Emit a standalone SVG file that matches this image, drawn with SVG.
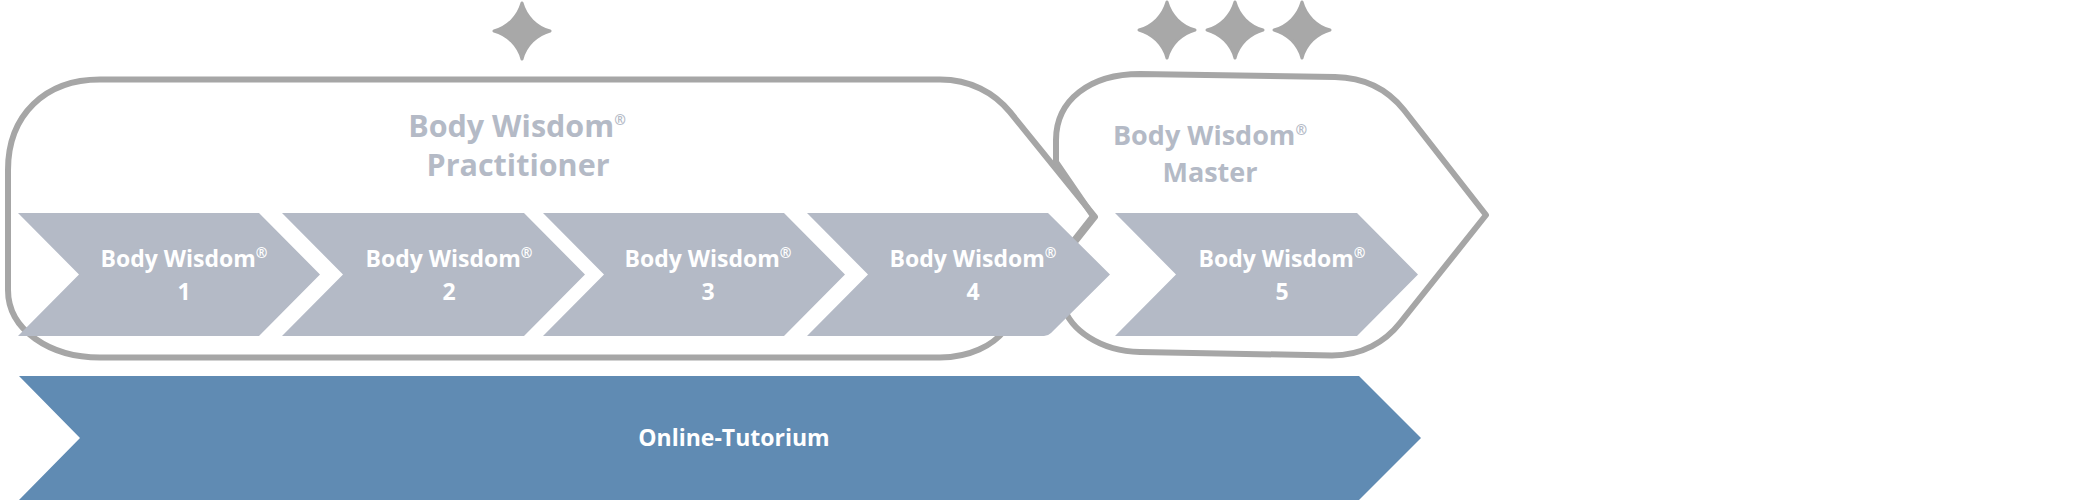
<svg xmlns="http://www.w3.org/2000/svg" width="2100" height="500" viewBox="0 0 2100 500">
<defs>
<style>
.frame{fill:none;stroke:#a6a6a6;stroke-width:6;stroke-linejoin:round}
.star{fill:#a8a8a8;stroke:#a8a8a8;stroke-width:3;stroke-linejoin:round}
.chev{fill:#b4bac6}
.lbl{font-family:"Open Sans","Noto Sans","Liberation Sans",sans-serif;font-weight:700;font-size:23px;fill:#ffffff;text-anchor:middle}
.title{font-family:"Open Sans","Noto Sans","Liberation Sans",sans-serif;font-weight:700;fill:#b4bac6;text-anchor:middle}
.reg{font-size:14px}
</style>
<path id="starShape" d="M0,-28 A40,40 0 0 0 28,0 A40,40 0 0 0 0,28 A40,40 0 0 0 -28,0 A40,40 0 0 0 0,-28 Z"/>
</defs>
<rect width="2100" height="500" fill="#ffffff"/>

<g id="frame-practitioner">
<path class="frame" d="M100,79.5 H940 C970,79.5 994,92.5 1010,112 L1095,217 L1005,330 C992.6,345.6 970,357.5 940,357.5 H100 C50,357.5 8,330 8,290 V170 C8,115 45,79.5 100,79.5 Z"/>
<text class="title" font-size="30.5" x="517" y="137">Body Wisdom<tspan class="reg" font-size="17" dy="-12">®</tspan></text>
<text class="title" font-size="30.5" x="518" y="176">Practitioner</text>
</g>

<g id="frame-master">
<path class="frame" d="M1140,74 L1335,77 C1365,77.5 1388,90 1404,110 L1486,215 L1400,323 C1385,342 1362,355.5 1332,355.5 L1140,352 C1100,351 1070,330 1063,305 L1060,258 L1093,216 L1056,162 V140 C1056,100 1090,74 1140,74 Z"/>
<text class="title" font-size="27" x="1210" y="145">Body Wisdom<tspan class="reg" font-size="15" dy="-10">®</tspan></text>
<text class="title" font-size="27" x="1210" y="182">Master</text>
</g>

<g id="stars">
<use href="#starShape" class="star" x="522" y="31"/>
<use href="#starShape" class="star" x="1167" y="30"/>
<use href="#starShape" class="star" x="1235" y="30"/>
<use href="#starShape" class="star" x="1302" y="30"/>
</g>

<g id="bw1">
<path class="chev" d="M18,213 H259 L320,274.5 L259,336 H18 L79,274.5 Z"/>
<text class="lbl" x="184" y="267">Body Wisdom<tspan class="reg" dy="-9">®</tspan></text>
<text class="lbl" x="184" y="300">1</text>
</g>
<g id="bw2">
<path class="chev" d="M282,213 H524 L585,274.5 L524,336 H282 L343,274.5 Z"/>
<text class="lbl" x="449" y="267">Body Wisdom<tspan class="reg" dy="-9">®</tspan></text>
<text class="lbl" x="449" y="300">2</text>
</g>
<g id="bw3">
<path class="chev" d="M543,213 H784 L845,274.5 L784,336 H543 L604,274.5 Z"/>
<text class="lbl" x="708" y="267">Body Wisdom<tspan class="reg" dy="-9">®</tspan></text>
<text class="lbl" x="708" y="300">3</text>
</g>
<g id="bw4">
<path class="chev" d="M807,213 H1048 L1110,274.5 L1051,333 Q1048,336 1044,336 H807 L868,274.5 Z"/>
<text class="lbl" x="973" y="267">Body Wisdom<tspan class="reg" dy="-9">®</tspan></text>
<text class="lbl" x="973" y="300">4</text>
</g>
<g id="bw5">
<path class="chev" d="M1115,213 H1357 L1418,274.5 L1357,336 H1115 L1176,274.5 Z"/>
<text class="lbl" x="1282" y="267">Body Wisdom<tspan class="reg" dy="-9">®</tspan></text>
<text class="lbl" x="1282" y="300">5</text>
</g>

<g id="online-tutorium">
<path fill="#608bb3" d="M19,376 H1359 L1421,438 L1359,500 H19 L80,438 Z"/>
<text class="lbl" x="734" y="446" font-size="23.5">Online-Tutorium</text>
</g>
</svg>
